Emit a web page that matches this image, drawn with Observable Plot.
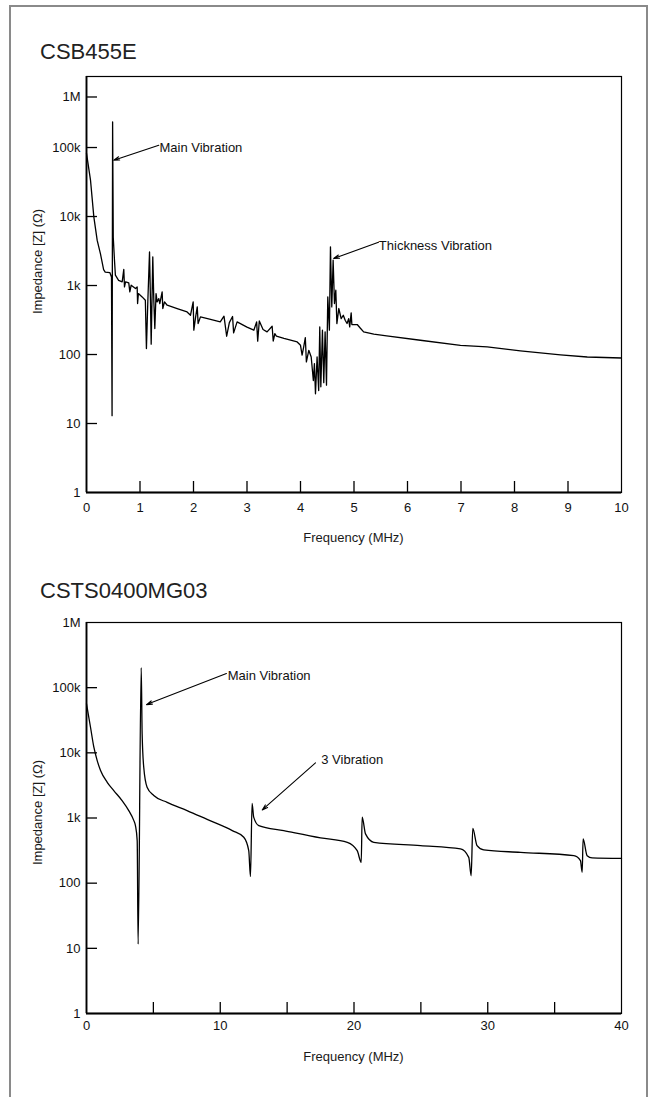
<!DOCTYPE html>
<html>
<head>
<meta charset="utf-8">
<script src="https://cdn.jsdelivr.net/npm/d3@7"></script>
<script src="https://cdn.jsdelivr.net/npm/@observablehq/plot@0.6"></script>
<style>
  html, body { margin: 0; padding: 0; background: #fff; }
  body { width: 656px; height: 1097px; overflow: hidden; position: relative;
         font-family: "Liberation Sans", Arial, Helvetica, sans-serif; color: #1a1a1a; }
  .border { position: absolute; left: 9px; top: 5px; width: 639px; height: 1200px;
            border: 2px solid #8a8a8a; box-sizing: border-box; }
  .title { position: absolute; left: 40px; font-size: 22px; line-height: 1; white-space: nowrap; color: #222; }
  .xlabel { position: absolute; left: 86px; width: 535px; text-align: center; font-size: 13px; line-height: 1; }
  .ylabel { position: absolute; width: 160px; height: 13px; text-align: center; font-size: 13px; line-height: 1;
            transform: rotate(-90deg); transform-origin: 50% 50%; white-space: nowrap; }
  .chart { position: absolute; left: 0; }
</style>
</head>
<body>
<div class="border"></div>
<div class="title" id="t1" style="top:41.4px">CSB455E</div>
<div class="chart" id="c1" style="top:66px"></div>
<div class="xlabel" style="top:530.5px">Frequency (MHz)</div>
<div class="ylabel" style="left:-43px; top:254.5px">Impedance [Z] (Ω)</div>

<div class="title" id="t2" style="top:579.7px">CSTS0400MG03</div>
<div class="chart" id="c2" style="top:612px"></div>
<div class="xlabel" style="top:1049.5px">Frequency (MHz)</div>
<div class="ylabel" style="left:-43px; top:806px">Impedance [Z] (Ω)</div>

<script>
// ---------- CSB455E (top chart) ----------
const csbFreq = [0, 0.075, 0.137, 0.2, 0.26, 0.32, 0.35, 0.436, 0.467, 0.478, 0.488, 0.50, 0.523, 0.54, 0.6, 0.667,
  0.697, 0.71, 0.73, 0.79, 0.81, 0.835, 0.916, 0.947, 0.955, 0.97, 1.04, 1.1, 1.12, 1.146, 1.178, 1.196, 1.209,
  1.239, 1.258, 1.277, 1.30, 1.32, 1.351, 1.37, 1.414, 1.426, 1.458, 1.508, 1.695, 1.88, 1.944, 1.994, 2.006, 2.04,
  2.07, 2.086, 2.13, 2.3, 2.5, 2.57, 2.62, 2.67, 2.73, 2.75, 2.815, 3.0, 3.128, 3.18, 3.2, 3.23, 3.3, 3.375, 3.47,
  3.49, 3.52, 3.55, 3.69, 3.815, 3.938, 4.0, 4.03, 4.06, 4.09, 4.11, 4.155, 4.2, 4.24, 4.26, 4.28, 4.31, 4.34, 4.36,
  4.38, 4.41, 4.435, 4.46, 4.486, 4.51, 4.54, 4.56, 4.585, 4.61, 4.635, 4.66, 4.68, 4.716, 4.76, 4.8, 4.835, 4.87,
  4.9, 4.92, 4.947, 4.96, 5.06, 5.12, 5.18, 5.37, 5.61, 6.24, 6.99, 7.49, 8.11, 8.86, 9.36, 10];
const csbImpedance = [82000, 33600, 9900, 4500, 2900, 1700, 1560, 1540, 1330, 13, 235000, 5000, 2330, 1410, 1190, 1130,
  1710, 954, 1130, 1090, 808, 1010, 905, 954, 548, 765, 684, 612, 122, 578, 3070, 578, 141,
  2600, 612, 238, 765, 578, 646, 548, 808, 464, 578, 518, 464, 414, 371, 578, 225, 351,
  490, 281, 351, 325, 297, 359, 184, 290, 355, 206, 297, 250, 225, 297, 156, 306, 230, 213, 257,
  157, 200, 185, 171, 161, 152, 136, 98, 129, 176, 78, 115, 92, 42, 74, 27, 92, 30, 251,
  34, 225, 39, 213, 36, 684, 225, 3630, 490, 2330, 548, 855, 281, 464, 331, 371, 314, 281,
  331, 251, 401, 272, 272, 240, 213, 197, 186, 161, 136, 129, 113, 99, 92, 89];

const csbXTicks = [1, 2, 3, 4, 5, 6, 7, 8, 9];
const csbXLabels = [0, 1, 2, 3, 4, 5, 6, 7, 8, 9, 10];
const csbYTicks = [10, 100, 1000, 10000, 100000, 540000];
const csbYLabelValues = [1, 10, 100, 1000, 10000, 100000, 540000];
const csbYTickLabels = ["1", "10", "100", "1k", "10k", "100k", "1M"];

const csbNotes = ["Main Vibration", "Thickness Vibration"];
const csbNoteF = [1.364, 5.464];
const csbNoteZ = [98700, 3750];
const csbArrowFromF = [1.351, 5.458];
const csbArrowFromZ = [108000, 4250];
const csbArrowToF = [0.51, 4.62];
const csbArrowToZ = [65500, 2460];

// ---------- CSTS0400MG03 (bottom chart) ----------
const ctsFreq = [0, 0.3, 0.55, 0.8, 1.05, 1.55, 2.04, 2.66, 3.16, 3.54, 3.66, 3.79, 3.86, 4.09, 4.16, 4.28, 4.53,
  5.03, 6.03, 7.52, 9.02, 10.9, 11.76, 12.13, 12.26, 12.38, 12.5, 12.88, 14.75, 17.5, 19.5, 20.24, 20.54, 20.61,
  20.86, 21.48, 24.97, 27.96, 28.58, 28.76, 28.88, 29.2, 29.7, 32.45, 36.44, 36.93, 37.06, 37.13, 37.43, 37.8, 40];
const ctsImpedance = [56600, 24700, 12200, 7600, 5350, 3530, 2630, 1850, 1300, 912, 764, 450, 11.6, 202000, 19600, 6000, 2970,
  2210, 1740, 1300, 950, 640, 506, 316, 126, 1680, 1030, 764, 640, 495, 424, 315, 209, 1030,
  570, 424, 377, 335, 249, 130, 695, 377, 324, 297, 264, 222, 147, 478, 264, 244, 240];

const ctsXTicks = [5, 10, 15, 20, 25, 30, 35];
const ctsXLabels = [0, 10, 20, 30, 40];
const ctsYTicks = [10, 100, 1000, 10000, 100000];
const ctsYLabelValues = [1, 10, 100, 1000, 10000, 100000, 1000000];
const ctsYTickLabels = ["1", "10", "100", "1k", "10k", "100k", "1M"];

const ctsNotes = ["Main Vibration", "3 Vibration"];
const ctsNoteF = [10.56, 17.55];
const ctsNoteZ = [150000, 7900];
const ctsArrowFromF = [10.46, 17.12];
const ctsArrowFromZ = [165000, 7000];
const ctsArrowToF = [4.49, 13.14];
const ctsArrowToZ = [55000, 1330];

const FONT = '"Liberation Sans", Arial, Helvetica, sans-serif';
const INK = "#111";

function makeChart({freq, imp, xDomain, yDomain, height, xTicks, xLabels, yTicks, yLabelValues, yLabels,
                    notes, noteF, noteZ, fromF, fromZ, toF, toZ, curve, xPad}) {
  const W = 656, mL = 86, mR = 35, mT = 10, mB = 30;
  const plotH = height - mT - mB, plotW = W - mL - mR;
  const series = freq.map((f, i) => ({f, z: imp[i]}));
  const ann = notes.map((t, i) => ({t, f: noteF[i], z: noteZ[i], f1: fromF[i], z1: fromZ[i], f2: toF[i], z2: toZ[i]}));
  const yLab = yLabelValues.map((v, i) => ({v, label: yLabels[i]}));
  return Plot.plot({
    width: W, height, marginLeft: mL, marginRight: mR, marginTop: mT, marginBottom: mB,
    style: {background: "transparent", overflow: "visible", fontFamily: FONT, fontSize: "13px", color: INK},
    x: {domain: xDomain, label: null},
    y: {type: "log", domain: yDomain, label: null, axis: null},
    marks: [
      Plot.frame({stroke: "#000", strokeWidth: 1.2}),
      Plot.ruleX([xDomain[0]], {stroke: "#000", strokeWidth: 1.8}),
      Plot.ruleY([yDomain[0]], {stroke: "#000", strokeWidth: 1.8}),
      Plot.tickY(yTicks, {y: d => d, insetRight: plotW - 11, stroke: "#000", strokeWidth: 1.3}),
      Plot.tickX(xTicks, {x: d => d, insetTop: plotH - 11, stroke: "#000", strokeWidth: 1.3}),
      Plot.text(yLab, {y: "v", text: "label", frameAnchor: "left", dx: -6, textAnchor: "end",
        lineAnchor: "middle", fill: INK, fontSize: 13}),
      Plot.axisX(xLabels, {anchor: "bottom", tickSize: 0, tickPadding: xPad, label: null,
        tickFormat: d => String(d), fill: INK, fontSize: 13}),
      Plot.line(series, {x: "f", y: "z", stroke: "#000", strokeWidth: 1.3, curve}),
      Plot.arrow(ann, {x1: "f1", y1: "z1", x2: "f2", y2: "z2", stroke: "#000", strokeWidth: 1.1,
        headLength: 8, headAngle: 34}),
      Plot.text(ann, {x: "f", y: "z", text: "t", textAnchor: "start", fill: INK, fontSize: 13})
    ]
  });
}

document.getElementById("c1").appendChild(makeChart({
  freq: csbFreq, imp: csbImpedance, xDomain: [0, 10], yDomain: [1, 1.07e6], height: 456,
  xTicks: csbXTicks, xLabels: csbXLabels, yTicks: csbYTicks, yLabelValues: csbYLabelValues, yLabels: csbYTickLabels,
  notes: csbNotes, noteF: csbNoteF, noteZ: csbNoteZ, fromF: csbArrowFromF, fromZ: csbArrowFromZ,
  toF: csbArrowToF, toZ: csbArrowToZ, curve: "linear", xPad: 10
}));

document.getElementById("c2").appendChild(makeChart({
  freq: ctsFreq, imp: ctsImpedance, xDomain: [0, 40], yDomain: [1, 1e6], height: 431,
  xTicks: ctsXTicks, xLabels: ctsXLabels, yTicks: ctsYTicks, yLabelValues: ctsYLabelValues, yLabels: ctsYTickLabels,
  notes: ctsNotes, noteF: ctsNoteF, noteZ: ctsNoteZ, fromF: ctsArrowFromF, fromZ: ctsArrowFromZ,
  toF: ctsArrowToF, toZ: ctsArrowToZ, curve: "monotone-x", xPad: 7
}));
</script>
</body>
</html>
